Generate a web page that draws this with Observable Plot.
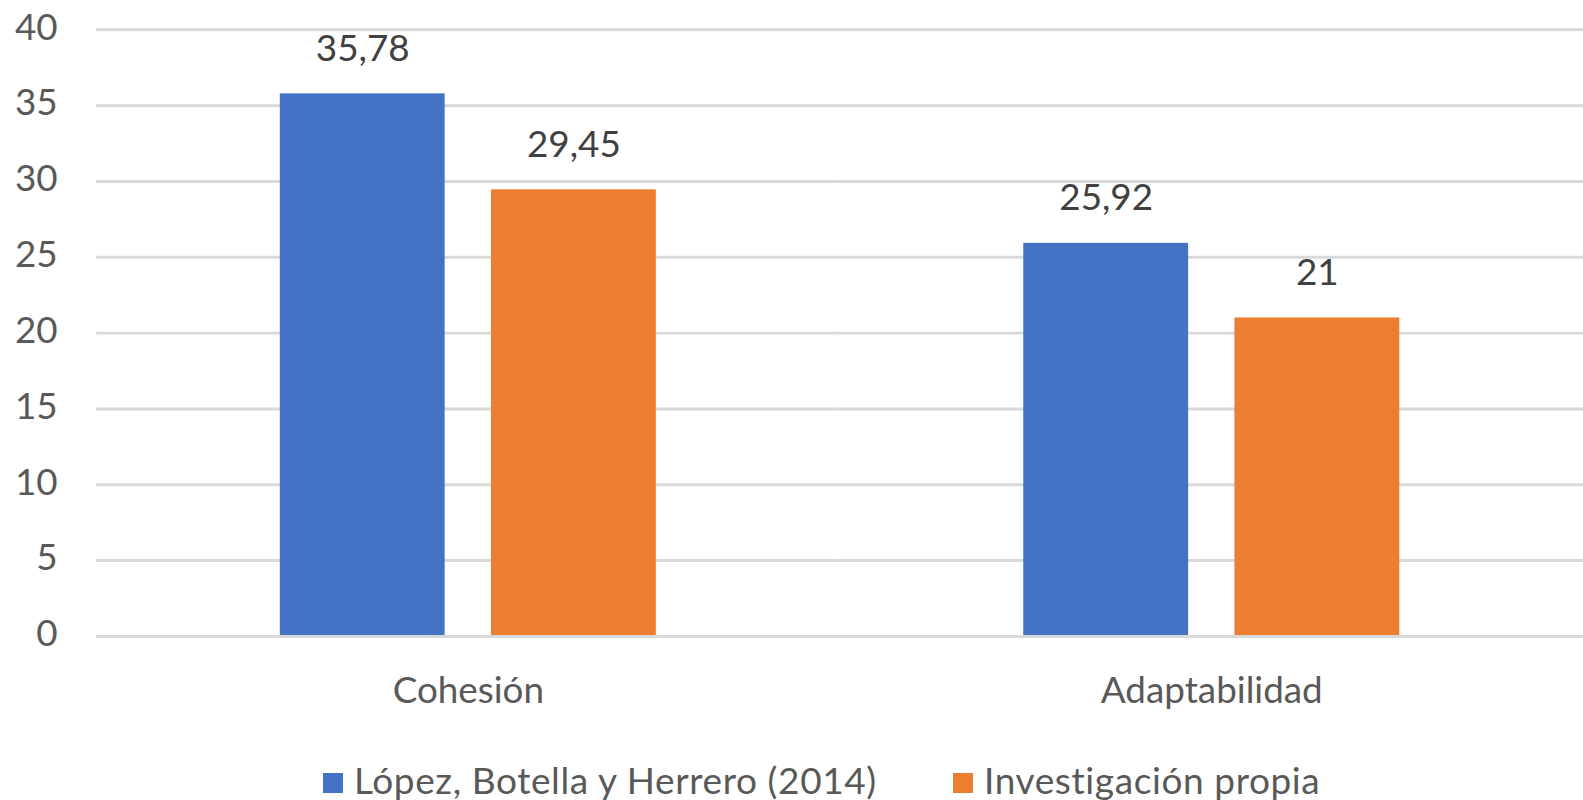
<!DOCTYPE html>
<html>
<head>
<meta charset="utf-8">
<script src="https://cdn.jsdelivr.net/npm/d3@7"></script>
<script src="https://cdn.jsdelivr.net/npm/@observablehq/plot@0.6"></script>
<style>
  html, body { margin: 0; padding: 0; background: #fff; }
  body { position: relative; width: 1583px; height: 800px; overflow: hidden; font-family: Lato, "Open Sans", sans-serif; }
  #chart svg { display: block; }
  .item { position: absolute; top: 761px; display: flex; align-items: center; font-size: 37px; line-height: 37px; color: #595959; white-space: nowrap; letter-spacing: 0.6px; }
  .sw { width: 20px; height: 20px; display: inline-block; position: relative; top: 3px; margin-right: 11px; }
</style>
</head>
<body>
<div id="chart"></div>
<div id="legend"></div>
<script>
const categories = ["Cohesión", "Adaptabilidad"];
const series = ["López, Botella y Herrero (2014)", "Investigación propia"];
const lopez = [35.78, 25.92];
const propia = [29.45, 21];
const yTicks = [0, 5, 10, 15, 20, 25, 30, 35, 40];
const colors = ["#4472C4", "#ED7D31"];

const data = categories.flatMap((c, i) => [
  {cat: c, serie: series[0], value: lopez[i]},
  {cat: c, serie: series[1], value: propia[i]}
]);
const fmt = v => String(v).replace(".", ",");

const chart = Plot.plot({
  width: 1590,
  height: 720,
  marginLeft: 96.5,
  marginRight: 0,
  marginTop: 29.5,
  marginBottom: 81.3,
  style: {fontFamily: "Lato, 'Open Sans', sans-serif", fontSize: "37px", color: "#595959", background: "#fff"},
  fx: {domain: categories, padding: 0, round: false, label: null},
  x: {domain: series, paddingInner: 0.2193, paddingOuter: 0.87, round: false, axis: null},
  y: {domain: [0, 40], label: null},
  color: {domain: series, range: colors},
  marks: [
    Plot.ruleY(yTicks.filter(t => t > 0), {stroke: "#D9D9D9", strokeWidth: 3}),
    Plot.barY(data, {fx: "cat", x: "serie", y: "value", fill: "serie"}),
    Plot.ruleY([0], {stroke: "#D9D9D9", strokeWidth: 3}),
    Plot.text(data, {fx: "cat", x: "serie", y: "value", text: d => fmt(d.value), dy: -45, fontSize: 37, fill: "#404040"}),
    Plot.axisY({ticks: yTicks, tickSize: 0, tickPadding: 39, label: null, fontSize: 37, dy: -2}),
    Plot.axisFx({anchor: "bottom", tickSize: 0, tickPadding: 41, label: null, fontSize: 37, style: {letterSpacing: "0.5px"}})
  ]
});
document.getElementById("chart").appendChild(chart);

const legend = document.getElementById("legend");
const legendLeft = [323, 953];
series.forEach((s, i) => {
  const item = document.createElement("div");
  item.className = "item";
  item.style.left = legendLeft[i] + "px";
  const sw = document.createElement("span");
  sw.className = "sw";
  sw.style.background = colors[i];
  const t = document.createElement("span");
  t.textContent = s;
  item.appendChild(sw);
  item.appendChild(t);
  legend.appendChild(item);
});
</script>
</body>
</html>
